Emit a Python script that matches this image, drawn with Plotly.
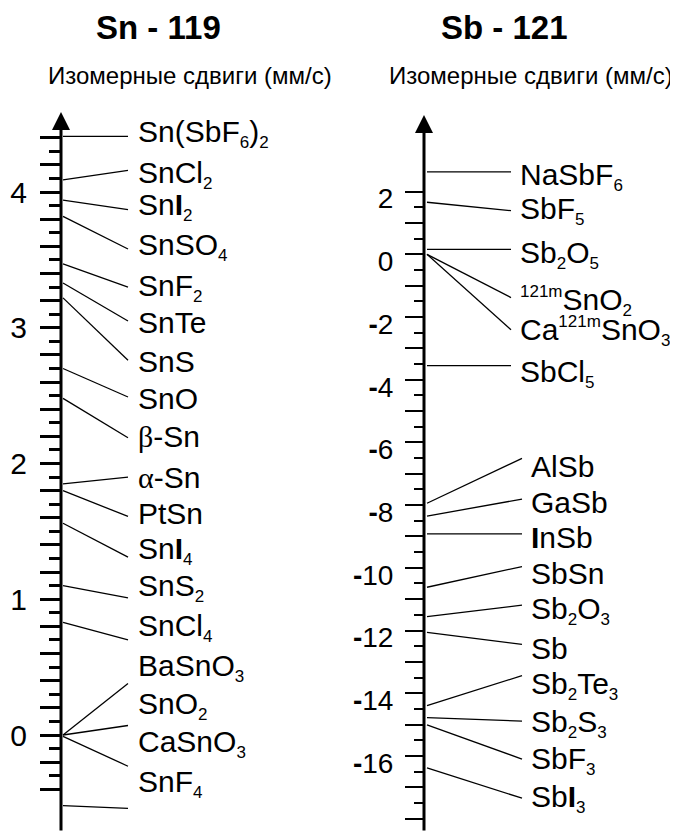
import plotly.graph_objects as go

# page body has an 8px margin, so the figure is drawn 8px smaller and shifted
OFF = 8
W, H = 678 - OFF, 832 - OFF
FONT = "Liberation Sans, Arial, sans-serif"
GREEK = "<span style='font-family:Liberation Serif'>{}</span>"

# ---- Sn-119 isomer shifts (mm/s) ----
SN_NAMES = [
    "Sn(SbF<sub>6</sub>)<sub>2</sub>", "SnCl<sub>2</sub>", "Sn<b>I</b><sub>2</sub>", "SnSO<sub>4</sub>",
    "SnF<sub>2</sub>", "SnTe", "SnS", "SnO", GREEK.format("β") + "-Sn", GREEK.format("α") + "-Sn",
    "PtSn", "Sn<b>I</b><sub>4</sub>", "SnS<sub>2</sub>", "SnCl<sub>4</sub>", "BaSnO<sub>3</sub>",
    "SnO<sub>2</sub>", "CaSnO<sub>3</sub>", "SnF<sub>4</sub>",
]
SN_SHIFT = [4.41, 4.09, 3.94, 3.82, 3.47, 3.33, 3.22, 2.70, 2.48, 1.85, 1.80, 1.56,
            1.10, 0.83, 0.00, 0.00, -0.01, -0.52]
SN_LINE_END = [4.41, 4.16, 3.87, 3.58, 3.30, 3.05, 2.76, 2.49, 2.19, 1.90, 1.61, 1.31,
               1.01, 0.70, 0.38, 0.07, -0.23, -0.54]
SN_LABEL_Y = [4.43, 4.13, 3.89, 3.60, 3.30, 3.04, 2.75, 2.48, 2.20, 1.90, 1.63, 1.36,
              1.09, 0.79, 0.50, 0.22, -0.06, -0.36]
SN_TICKVALS = [-0.4, -0.2, 0.0, 0.2, 0.4, 0.6, 0.8, 1.0, 1.2, 1.4, 1.6, 1.8, 2.0, 2.2,
               2.4, 2.6, 2.8, 3.0, 3.2, 3.4, 3.6, 3.8, 4.0, 4.2, 4.4]
SN_TICKTEXT = [str(int(round(v))) if abs(v - round(v)) < 1e-9 else "" for v in SN_TICKVALS]
SN_MINOR = [-0.3, -0.1, 0.1, 0.3, 0.5, 0.7, 0.9, 1.1, 1.3, 1.5, 1.7, 1.9, 2.1, 2.3,
            2.5, 2.7, 2.9, 3.1, 3.3, 3.5, 3.7, 3.9, 4.1, 4.3]

# ---- Sb-121 isomer shifts (mm/s) ----
SB_NAMES = [
    "NaSbF<sub>6</sub>", "SbF<sub>5</sub>", "Sb<sub>2</sub>O<sub>5</sub>",
    "<sup>121m</sup>SnO<sub>2</sub>", "Ca<sup>121m</sup>SnO<sub>3</sub>", "SbCl<sub>5</sub>",
    "AlSb", "GaSb", "<b>I</b>nSb", "SbSn", "Sb<sub>2</sub>O<sub>3</sub>", "Sb",
    "Sb<sub>2</sub>Te<sub>3</sub>", "Sb<sub>2</sub>S<sub>3</sub>", "SbF<sub>3</sub>",
    "Sb<b>I</b><sub>3</sub>",
]
SB_SHIFT = [2.63, 1.66, 0.16, 0.0, 0.0, -3.55, -7.94, -8.35, -8.92, -10.62, -11.56,
            -12.06, -14.40, -14.78, -15.01, -16.38]
SB_LINE_END = [2.63, 1.39, 0.16, -1.38, -2.41, -3.55, -6.51, -7.81, -8.92, -9.96, -11.19,
               -12.44, -13.44, -14.89, -16.10, -17.35]
SB_LABEL_Y = [2.48, 1.41, -0.02, -1.50, -2.45, -3.80, -6.78, -7.91, -9.03, -10.18, -11.35,
              -12.57, -13.77, -14.96, -16.15, -17.35]
SB_TICKVALS = list(range(-18, 3))
SB_TICKTEXT = [("<b>-</b>" + str(abs(v)) if v < 0 else str(v)) if v % 2 == 0 and v != -18 else ""
               for v in SB_TICKVALS]
SB_MINOR = [v + 0.5 for v in range(-18, 2)]


def small(s, size=17):
    for tag in ("sub", "sup"):
        s = s.replace(f"<{tag}>", f"<{tag}><span style='font-size:{size}px'>")
        s = s.replace(f"</{tag}>", f"</span></{tag}>")
    return s


def px(v):
    return v - OFF


# pixel geometry of the two scales (reference picture pixels)
SN_AXIS_X, SB_AXIS_X = px(61), px(424)
SN_ZERO_PX, SN_PX_PER_UNIT = px(735), 135.75
SB_ZERO_PX, SB_PX_PER_UNIT = px(254.3), 31.35
SB_SPLIT = 6  # upper Sb labels sit a little further left

sn_range = [-(H - SN_ZERO_PX) / SN_PX_PER_UNIT, SN_ZERO_PX / SN_PX_PER_UNIT]
sb_range = [-(H - SB_ZERO_PX) / SB_PX_PER_UNIT, SB_ZERO_PX / SB_PX_PER_UNIT]

fig = go.Figure()

# connector lines
sn_x, sn_y = [], []
for s, e in zip(SN_SHIFT, SN_LINE_END):
    sn_x += [SN_AXIS_X + 2, px(128), None]
    sn_y += [s, e, None]
fig.add_trace(go.Scatter(x=sn_x, y=sn_y, mode="lines", line=dict(color="black", width=1.3),
                         xaxis="x", yaxis="y", hoverinfo="skip", showlegend=False))

sb_x, sb_y = [], []
for i, (s, e) in enumerate(zip(SB_SHIFT, SB_LINE_END)):
    sb_x += [SB_AXIS_X + 3, px(511) if i < SB_SPLIT else px(522), None]
    sb_y += [s, e, None]
fig.add_trace(go.Scatter(x=sb_x, y=sb_y, mode="lines", line=dict(color="black", width=1.3),
                         xaxis="x", yaxis="y2", hoverinfo="skip", showlegend=False))

annotations = []
for name, y in zip(SN_NAMES, SN_LABEL_Y):
    annotations.append(dict(x=px(136), y=y, xref="x", yref="y", text=small(name), showarrow=False,
                            xanchor="left", yanchor="middle",
                            font=dict(family=FONT, size=30, color="black")))
for i, (name, y) in enumerate(zip(SB_NAMES, SB_LABEL_Y)):
    annotations.append(dict(x=px(518) if i < SB_SPLIT else px(529), y=y, xref="x", yref="y2",
                            text=small(name), showarrow=False, xanchor="left", yanchor="middle",
                            font=dict(family=FONT, size=30, color="black")))

# axis lines with arrow heads
annotations.append(dict(x=SN_AXIS_X, y=(SN_ZERO_PX - px(112)) / SN_PX_PER_UNIT, xref="x", yref="y",
                        ax=SN_AXIS_X, ay=sn_range[0], axref="x", ayref="y", text="",
                        showarrow=True, arrowhead=2, arrowsize=1.2, arrowwidth=3,
                        arrowcolor="black"))
annotations.append(dict(x=SB_AXIS_X, y=(SB_ZERO_PX - px(115)) / SB_PX_PER_UNIT, xref="x", yref="y2",
                        ax=SB_AXIS_X, ay=sb_range[0], axref="x", ayref="y2", text="",
                        showarrow=True, arrowhead=2, arrowsize=1.2, arrowwidth=3,
                        arrowcolor="black"))

# titles
for x, title in [(158, "Sn - 119"), (504, "Sb - 121")]:
    annotations.append(dict(x=px(x) / W, y=1 - px(27) / H, xref="paper", yref="paper",
                            text=f"<b>{title}</b>", showarrow=False, xanchor="center",
                            yanchor="middle", font=dict(family=FONT, size=33, color="black")))
for x in [190, 531]:
    annotations.append(dict(x=px(x) / W, y=1 - px(75) / H, xref="paper", yref="paper",
                            text="Изомерные сдвиги (мм/с)", showarrow=False,
                            xanchor="center", yanchor="middle",
                            font=dict(family=FONT, size=24, color="black")))

fig.update_layout(
    width=W, height=H,
    margin=dict(l=0, r=0, t=0, b=0),
    paper_bgcolor="white", plot_bgcolor="white",
    showlegend=False,
    annotations=annotations,
    xaxis=dict(domain=[0, 1], range=[0, W], visible=False, fixedrange=True),
    yaxis=dict(
        range=sn_range, anchor="free", position=SN_AXIS_X / W, side="left",
        showline=False, showgrid=False, zeroline=False, automargin=False,
        tickmode="array", tickvals=SN_TICKVALS, ticktext=SN_TICKTEXT,
        ticks="outside", ticklen=21, tickwidth=2.5, tickcolor="black",
        ticklabelstandoff=7,
        tickfont=dict(family=FONT, size=30, color="black"),
        minor=dict(tickmode="array", tickvals=SN_MINOR, ticks="outside", ticklen=12,
                   tickwidth=2.5, tickcolor="black", showgrid=False),
    ),
    yaxis2=dict(
        range=sb_range, anchor="free", overlaying="y", position=SB_AXIS_X / W, side="left",
        showline=False, showgrid=False, zeroline=False, automargin=False,
        tickmode="array", tickvals=SB_TICKVALS, ticktext=SB_TICKTEXT,
        ticks="outside", ticklen=19, tickwidth=2, tickcolor="black",
        ticklabelstandoff=6, ticklabelshift=7,
        tickfont=dict(family=FONT, size=28, color="black"),
        minor=dict(tickmode="array", tickvals=SB_MINOR, ticks="outside", ticklen=10,
                   tickwidth=2, tickcolor="black", showgrid=False),
    ),
)

fig.write_html("out.html")
